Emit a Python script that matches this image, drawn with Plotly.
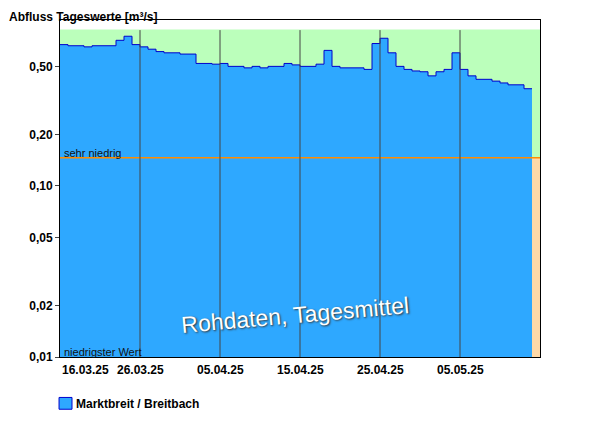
import plotly.graph_objects as go
import pandas as pd

dates = pd.date_range("2025-03-16", "2025-05-13", freq="D")
flow = [0.67, 0.66, 0.66, 0.65, 0.66, 0.66, 0.66, 0.71, 0.75, 0.67,
        0.65, 0.63, 0.61, 0.60, 0.60, 0.59, 0.59, 0.52, 0.52, 0.515,
        0.52, 0.50, 0.50, 0.49, 0.50, 0.49, 0.50, 0.50, 0.52, 0.51,
        0.50, 0.50, 0.515, 0.62, 0.50, 0.49, 0.49, 0.49, 0.48, 0.68,
        0.73, 0.60, 0.50, 0.48, 0.47, 0.465, 0.44, 0.465, 0.48, 0.60,
        0.48, 0.44, 0.42, 0.42, 0.41, 0.40, 0.39, 0.39, 0.37]
tick_dates = ["2025-03-16", "2025-03-26", "2025-04-05", "2025-04-15", "2025-04-25", "2025-05-05"]
tick_text = ["16.03.25", "26.03.25", "05.04.25", "15.04.25", "25.04.25", "05.05.25"]
y_ticks = [0.01, 0.02, 0.05, 0.10, 0.20, 0.50]
y_text = ["0,01", "0,02", "0,05", "0,10", "0,20", "0,50"]
sehr_niedrig = 0.146
green_top = 0.82

x_start = "2025-03-16"
x_end = "2025-05-15"
xs = [d.strftime("%Y-%m-%d") for d in dates] + ["2025-05-14"]
ys = flow + [flow[-1]]

fig = go.Figure()
fig.add_trace(go.Scatter(x=[xs[0], xs[-1]], y=[0.005, 0.005], mode="lines",
                         line=dict(width=0), showlegend=False, hoverinfo="skip"))
fig.add_trace(go.Scatter(x=xs, y=ys, mode="lines", line=dict(shape="hv", color="#0000cc", width=1),
                         fill="tonexty", fillcolor="#2ea8ff", showlegend=False))

fig.add_shape(type="rect", xref="x", yref="y", x0=x_start, x1=x_end, y0=sehr_niedrig, y1=green_top,
              fillcolor="#bbffbb", line_width=0, layer="below")
fig.add_shape(type="rect", xref="x", yref="y", x0=x_start, x1=x_end, y0=0.01, y1=sehr_niedrig,
              fillcolor="#ffd9a8", line_width=0, layer="below")
fig.add_shape(type="line", xref="x", yref="y", x0=x_start, x1=x_end, y0=sehr_niedrig, y1=sehr_niedrig,
              line=dict(color="#ff8c00", width=1.5))
for d in tick_dates[1:]:
    fig.add_shape(type="line", xref="x", yref="paper", x0=d, x1=d, y0=0, y1=0.97,
                  line=dict(color="#444444", width=1))

for i, (d, t) in enumerate(zip(tick_dates, tick_text)):
    fig.add_annotation(x=d, y=0, xref="x", yref="paper", text=t, showarrow=False,
                       xanchor="left" if i == 0 else "center", yanchor="top", yshift=-4,
                       font=dict(size=12, color="black", family="Liberation Sans", weight="bold"))

fig.add_annotation(x=x_start, y=-0.835, xref="x", yref="y", text="sehr niedrig", showarrow=False,
                   xanchor="left", yanchor="bottom", xshift=2, yshift=-3, font=dict(size=11, color="#111"))
fig.add_annotation(x=x_start, y=-2, xref="x", yref="y", text="niedrigster Wert", showarrow=False,
                   xanchor="left", yanchor="bottom", xshift=2, yshift=-3, font=dict(size=11, color="#111"))
fig.add_annotation(x=0.49, y=0.05, xref="paper", yref="paper", text="Rohdaten, Tagesmittel", showarrow=False,
                   textangle=-5, font=dict(size=23, color="white", family="Liberation Sans",
                                           shadow="1px 1px 2px #333"))
fig.add_annotation(x=-0.11, y=1.036, xref="paper", yref="paper", text="Abfluss Tageswerte [m³/s]",
                   xanchor="left", yanchor="top", showarrow=False,
                   font=dict(size=12, color="black", family="Liberation Sans", weight="bold"))

# legend
fig.add_shape(type="rect", xref="paper", yref="paper", x0=-0.002, x1=0.025, y0=-0.155, y1=-0.12,
              fillcolor="#2ea8ff", line=dict(color="#0000cc", width=1))
fig.add_annotation(x=0.03, y=-0.138, xref="paper", yref="paper", text="Marktbreit / Breitbach",
                   xanchor="left", yanchor="middle", showarrow=False,
                   font=dict(size=12, color="black", family="Liberation Sans", weight="bold"))

fig.update_layout(
    width=592, height=418,
    margin=dict(l=52, r=60, t=12, b=69, autoexpand=False),
    plot_bgcolor="white", paper_bgcolor="white",
    font=dict(family="Liberation Sans", size=12, color="black"),
    showlegend=False,
    xaxis=dict(range=[x_start, x_end], showgrid=False, showticklabels=False,
               showline=True, linecolor="black", mirror=True, ticks=""),
    yaxis=dict(type="log", range=[-2, -0.03], tickvals=y_ticks, ticktext=y_text,
               showgrid=False, showline=True, linecolor="black", mirror=True,
               ticks="outside", ticklen=4, tickfont=dict(size=12, weight="bold")),
)
fig.write_html("out.html")
